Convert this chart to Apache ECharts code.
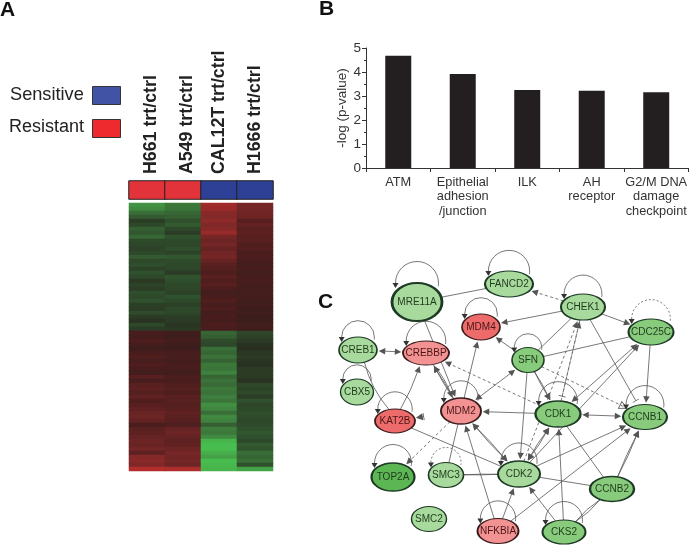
<!DOCTYPE html>
<html><head><meta charset="utf-8">
<style>html,body{margin:0;padding:0;background:#fff}#c{width:690px;height:545px}</style>
<script src="https://cdn.jsdelivr.net/npm/echarts@6/dist/echarts.min.js"></script>
</head><body><div id="c"></div>
<script>
// ---------- Panel A data ----------
const samples = ['H661 trt/ctrl','A549 trt/ctrl','CAL12T trt/ctrl','H1666 trt/ctrl'];
const sampleGroup = ['Resistant','Resistant','Sensitive','Sensitive'];
const h661 = [-.78,-.72,-.55,-.42,-.22,-.3,-.45,-.4,-.5,-.3,-.28,-.25,-.3,-.42,-.3,-.34,-.26,-.36,-.3,-.18,-.26,-.22,-.34,-.3,-.36,-.24,-.22,-.32,-.2,-.14,-.3,-.2,
  .3,.26,.34,.25,.2,.3,.36,.28,.34,.3,.24,.4,.28,.42,.45,.38,.46,.36,.4,.46,.52,.55,.48,.3,.42,.45,.5,.55,.52,.6,.45,.7,.72,.68,.95];
const a549 = [-.62,-.6,-.5,-.45,-.35,-.42,-.3,-.2,-.36,-.3,-.28,-.34,-.26,-.4,-.32,-.3,-.28,-.2,-.38,-.34,-.3,-.28,-.26,-.36,-.3,-.24,-.3,-.28,-.22,-.2,-.16,-.18,
  .22,.2,.25,.2,.2,.28,.28,.26,.3,.28,.22,.32,.3,.36,.38,.34,.4,.42,.38,.42,.46,.42,.4,.35,.5,.55,.5,.45,.48,.55,.62,.58,.6,.55,.92];
const cal12t = [.85,.82,.72,.7,.75,.68,.72,.8,.62,.55,.6,.5,.58,.62,.5,.42,.38,.34,.42,.36,.4,.32,.25,.3,.36,.28,.33,.26,.3,.27,.32,.28,
  -.5,-.45,-.32,-.28,-.55,-.5,-.58,-.48,-.62,-.6,-.68,-.5,-.58,-.52,-.62,-.58,-.66,-.6,-.75,-.7,-.55,-.72,-.68,-.45,-.65,-.62,-.72,-.95,-1,-1,-.92,-.85,-1,-.98,-.95];
const h1666 = [.62,.6,.58,.56,.4,.48,.42,.45,.4,.42,.36,.38,.3,.34,.3,.26,.3,.24,.27,.28,.26,.25,.24,.27,.22,.24,.2,.22,.18,.2,.24,.22,
  -.28,-.25,-.2,-.14,-.12,-.18,-.2,-.16,-.14,-.2,-.22,-.2,-.14,-.3,-.26,-.3,-.22,-.36,-.28,-.3,-.34,-.32,-.28,-.32,-.36,-.4,-.35,-.3,-.42,-.38,-.55,-.5,-.55,-.35,-.85];
const heatColumns = [h661,a549,cal12t,h1666];
// ---------- Panel B data ----------
const pathways = ['ATM','Epithelial\nadhesion\n/junction','ILK','AH\nreceptor','G2/M DNA\ndamage\ncheckpoint'];
const pValues = [4.68,3.92,3.25,3.22,3.16];
const yTicks = [0,1,2,3,4,5];
// ---------- Panel C data ----------
const nodes = ['MRE11A','FANCD2','CHEK1','CDC25C','MDM4','SFN','CREB1','CREBBP','CBX5','KAT2B','MDM2','CDK1','CCNB1','TOP2A','SMC3','CDK2','CCNB2','SMC2','NFKBIA','CKS2'];
const edges = [
 ['MRE11A','FANCD2','line'],['MRE11A','MDM2','arrow'],['CREB1','CREBBP','both'],['CREB1','KAT2B','line',-.12],
 ['KAT2B','CREBBP','arrow',-.05],['MDM2','CREBBP','arrow',.03],['MDM2','CREBBP','arrow',-.03],['CREBBP','MDM2','arrow',.1],
 ['CDK1','CREBBP','dash'],['MDM2','MDM4','arrow'],['SFN','MDM4','arrow'],['CHEK1','MDM4','arrow'],['CHEK1','FANCD2','dash'],
 ['CHEK1','CDC25C','arrow'],['CHEK1','SFN','line'],['CDK1','CHEK1','dash'],['CDK2','CHEK1','dash'],['CHEK1','CCNB1','tee'],
 ['CHEK1','CDK1','teeDash'],['SFN','CDC25C','line'],['CDK1','CDC25C','both'],['CDK2','CDC25C','arrow'],['CDC25C','CCNB1','arrow'],
 ['SFN','MDM2','both'],['SFN','CDK1','arrow',.04],['SFN','CDK1','arrow',-.04],['SFN','CDK2','arrow'],['CDK1','MDM2','arrow'],
 ['CDK1','CCNB1','both'],['CDK1','CDK2','both',.05],['CDK1','CDK2','both',-.05],['CCNB2','CDK1','line'],['CKS2','CDK1','arrow'],
 ['CDK2','CCNB1','arrow'],['NFKBIA','CCNB1','arrow'],['CCNB2','CCNB1','arrow',.03],['CCNB2','CCNB1','arrow',-.03],['CCNB2','CDK2','line'],
 ['CCNB2','CKS2','line',.08],['CCNB2','CKS2','line',-.08],['CKS2','CDK2','arrow'],['NFKBIA','CDK2','arrow'],['NFKBIA','MDM2','arrow'],
 ['MDM2','SMC3','line'],['MDM2','TOP2A','dash'],['MDM2','KAT2B','teeArrow'],['KAT2B','CDK2','line'],['SMC3','CDK2','line',.02],['SMC3','CDK2','line',-.02],
 ['CDK2','MDM2','both',.03],['CDK2','MDM2','both',-.03],['SFN','CCNB1','hollow']
];
const selfLoops = ['MRE11A','FANCD2','CHEK1','CDC25C','SFN','CREB1','CREBBP','MDM4','CBX5','KAT2B','TOP2A','SMC3','MDM2','CDK1','CCNB1','CDK2','CKS2','NFKBIA'];
const dashedLoops = ['CDC25C','SMC3'];

// ---------- Layout (network placement: x, y, width, height, kind) ----------
const layout = {
 MRE11A:[417,302,50,38,'lt',2.5],FANCD2:[509,284,48,26,'lt',1.6],CHEK1:[583,307,44,26,'lt',1.6],CDC25C:[651,332,45,26,'md',1.6],
 MDM4:[481,327,38,26,'red',1.4],SFN:[528,360,32,25,'md',1.4],CREB1:[358,350,38,26,'lt',1.4],CREBBP:[426,353,46,24,'pk',1.4],
 CBX5:[357,392,33,26,'lt',1.2],KAT2B:[395,421,40,24,'red',1.4],MDM2:[461,411,40,26,'pk',1.6],CDK1:[558,414,45,26,'md',1.8],
 CCNB1:[645,417,44,25,'md',1.6],TOP2A:[393,477,43,28,'dk',1.8],SMC3:[446,475,35,25,'lt',1.4],CDK2:[519,474,42,26,'lt',1.6],
 CCNB2:[612,489,44,25,'md',1.8],SMC2:[429,519,35,25,'lt',1.2],NFKBIA:[498,531,41,25,'pk',1.6],CKS2:[564,532,43,24,'md',1.6]
};
const fills = {lt:'#a8da9d',md:'#88cb7c',dk:'#5db654',pk:'#f29292',red:'#ee6b6b'};
const FONT = '"Liberation Sans",Arial,sans-serif';
const lineCol = '#555';

// heatmap cells
const heatData = [];
heatColumns.forEach((col,i)=>col.forEach((v,r)=>heatData.push([i,r,v])));
const rowIdx = h661.map((_,i)=>String(i));
const groupColor = {Resistant:'#e3333a',Sensitive:'#2e3f96'};
const stripData = sampleGroup.map((g,i)=>({value:[i,0,1],itemStyle:{color:groupColor[g]}}));

// clip an edge end to its node's ellipse
function edgeEnd(a,b,gap){
  const A=layout[a],B=layout[b],dx=B[0]-A[0],dy=B[1]-A[1],len=Math.hypot(dx,dy);
  const k=1/Math.sqrt((dx*dx)/(A[2]*A[2]/4)+(dy*dy)/(A[3]*A[3]/4));
  const t=k+gap/len;
  return [A[0]+dx*t,A[1]+dy*t];
}
const teePath='path://M0,0L.01,0L0,.01ZM0,4.5H10V5.5H0ZM0,10L.01,10L0,9.99Z';
const symFor = {
 arrow:['none','triangle'],both:['triangle','triangle'],line:['none','none'],dash:['none','triangle'],
 tee:['none',teePath],teeDash:['none',teePath],teeArrow:[teePath,'triangle'],
 hollow:['none','path://M5,0L10,10L0,10ZM5,2.5L1.5,9L8.5,9Z']
};
const lineData = edges.map(([a,b,kind,curve])=>{
  const dashed = kind==='dash'||kind==='hollow'||kind==='teeDash';
  const s = symFor[kind];
  const gapA = s[0]==='none'?0:(kind==='teeArrow'?18:5), gapB = s[1]==='none'?0:5;
  return {coords:[edgeEnd(a,b,gapA),edgeEnd(b,a,gapB)],symbol:s,symbolSize:kind==='hollow'?[6,9]:kind.startsWith('tee')?[7,7]:[6.5,6.5],
    lineStyle:{color:lineCol,width:.8,type:dashed?[3,2.5]:'solid',curveness:curve||0,opacity:1}};
});
const labelBase = {fontSize:17.8,fontWeight:'bold',color:'#222',fontFamily:FONT};

const option = {
 animation:false,backgroundColor:'#fff',
 textStyle:{fontFamily:FONT},
 grid:[
  {left:129,top:203,width:144,height:268},
  {left:129,top:181,width:144,height:18},
  {left:366,top:48,width:324,height:120},
  {left:300,top:235,width:390,height:310}
 ],
 xAxis:[
  {gridIndex:0,type:'category',data:samples,show:false},
  {gridIndex:1,type:'category',data:samples,position:'top',axisLine:{show:false},axisTick:{show:false},
   axisLabel:{rotate:-90,margin:7,interval:0,...labelBase,
     formatter:(v,i)=>i<2?'{s|'+v+'}':'{n|'+v+'}',
     rich:{s:{...labelBase,padding:[8,0,0,0]},n:{...labelBase}}}},
  {gridIndex:2,type:'category',data:pathways,axisLine:{lineStyle:{color:'#333',width:1}},axisTick:{show:true,length:4,lineStyle:{color:'#333'},alignWithLabel:false},
   axisLabel:{interval:0,margin:7,fontSize:12.8,lineHeight:14.6,color:'#333',fontFamily:FONT}},
  {gridIndex:3,type:'value',min:300,max:690,show:false}
 ],
 yAxis:[
  {gridIndex:0,type:'category',data:rowIdx,inverse:true,show:false},
  {gridIndex:1,type:'category',data:['group'],show:false},
  {gridIndex:2,type:'value',min:yTicks[0],max:yTicks[5],interval:1,name:'-log (p-value)',nameLocation:'middle',nameGap:16,
   nameTextStyle:{fontSize:13.5,color:'#333',fontFamily:FONT},
   axisLine:{show:true,lineStyle:{color:'#333'}},axisTick:{show:true,length:4,lineStyle:{color:'#333'}},
   minorTick:{show:true,splitNumber:2,length:2,lineStyle:{color:'#333'}},splitLine:{show:false},minorSplitLine:{show:false},
   axisLabel:{margin:5,fontSize:13.5,color:'#333',fontFamily:FONT}},
  {gridIndex:3,type:'value',min:235,max:545,inverse:true,show:false}
 ],
 visualMap:[{show:false,seriesIndex:0,min:-1,max:1,dimension:2,
   inRange:{color:['#48bd4f','#3f7f3e','#2f4d2c','#261f1b','#4d1d1d','#7d2828','#bd2e2e']}}],
 graphic:[
  {type:'text',left:0,top:0,style:{text:'A',font:'bold 21px '+FONT,fill:'#111'}},
  {type:'text',left:319,top:-1,style:{text:'B',font:'bold 21px '+FONT,fill:'#111'}},
  {type:'text',left:318,top:292,style:{text:'C',font:'bold 21px '+FONT,fill:'#111'}},
  {type:'text',left:10,top:86,style:{text:'Sensitive',font:'18.2px '+FONT,fill:'#222'}},
  {type:'text',left:9,top:118,style:{text:'Resistant',font:'18px '+FONT,fill:'#222'}},
  {type:'rect',left:92,top:86,shape:{width:28,height:18},style:{fill:'#4053a5',stroke:'#333',lineWidth:1}},
  {type:'rect',left:92,top:119,shape:{width:28,height:18},style:{fill:'#ee2a2e',stroke:'#333',lineWidth:1}}
 ],
 series:[
  {type:'heatmap',xAxisIndex:0,yAxisIndex:0,data:heatData,silent:true,itemStyle:{borderWidth:0},progressive:0},
  {type:'heatmap',xAxisIndex:1,yAxisIndex:1,data:stripData,silent:true,itemStyle:{borderColor:'#222',borderWidth:1}},
  {type:'bar',xAxisIndex:2,yAxisIndex:2,data:pValues,barWidth:26,silent:true,itemStyle:{color:'#231f20'}},
  {type:'lines',xAxisIndex:3,yAxisIndex:3,coordinateSystem:'cartesian2d',data:lineData,silent:true,z:2},
  {type:'custom',xAxisIndex:3,yAxisIndex:3,coordinateSystem:'cartesian2d',silent:true,z:2,clip:false,
   data:selfLoops.map(n=>[layout[n][0],layout[n][1]-layout[n][3]/2,layout[n][2],n]),
   encode:{x:0,y:1},
   renderItem(params,api){
     const c=api.coord([api.value(0),api.value(1)]);
     const w=api.value(2);
     const name=selfLoops[params.dataIndex];
     const r=w*0.43;
     const dashed=dashedLoops.includes(name);
     const tipY=c[1]+5;
     return {type:'group',children:[
       {type:'arc',shape:{cx:c[0],cy:c[1],r:r,startAngle:Math.PI,endAngle:Math.PI*2.05,clockwise:true},
        style:{stroke:lineCol,fill:null,lineWidth:.8,lineDash:dashed?[2,2]:null}},
       {type:'polygon',shape:{points:[[c[0]-r-3,c[1]],[c[0]-r+3,c[1]],[c[0]-r,tipY]]},style:{fill:'#333'}}
     ]};
   }},
  {type:'graph',xAxisIndex:3,yAxisIndex:3,coordinateSystem:'cartesian2d',layout:'none',z:5,silent:true,roam:false,
   data:nodes.map(n=>{const L=layout[n];const red=(L[4]==='pk'||L[4]==='red');return {
     name:n,value:[L[0],L[1]],symbol:'circle',symbolSize:[L[2],L[3]],
     itemStyle:{color:fills[L[4]],borderColor:red?'#3a1c1c':'#1d3a24',borderWidth:L[5]},
     label:{show:true,position:'inside',formatter:n,fontSize:10,color:red?'#4a1616':'#1f3a1c',fontFamily:FONT}};}),
   links:[]}
 ]
};
echarts.init(document.getElementById('c'),null,{renderer:'canvas'}).setOption(option);
</script></body></html>
